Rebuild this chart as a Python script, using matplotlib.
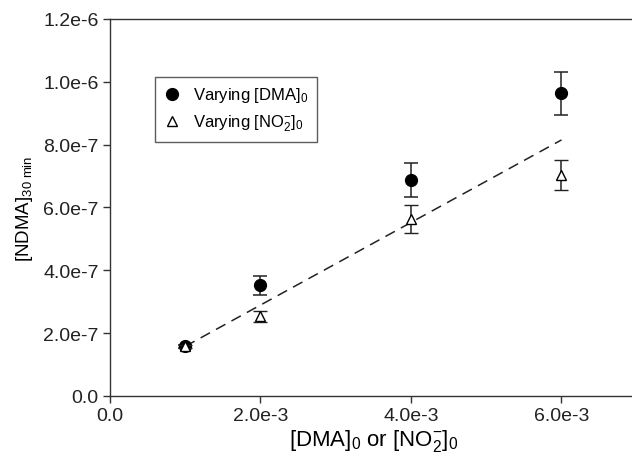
import numpy as np
import matplotlib
matplotlib.use("Agg")
import matplotlib.pyplot as plt
from matplotlib.lines import Line2D
from matplotlib.ticker import FuncFormatter, MultipleLocator

plt.rcParams.update({
    "font.family": "Liberation Sans",
    "mathtext.fontset": "custom",
    "mathtext.rm": "Liberation Sans",
    "mathtext.it": "Liberation Sans",
    "font.size": 12,
})

# initial concentrations (M)
conc = [1.0e-3, 2.0e-3, 4.0e-3, 6.0e-3]

# NDMA after 30 min, varying DMA
ndma_dma = [1.58e-7, 3.52e-7, 6.88e-7, 9.63e-7]
err_dma = [0.05e-7, 0.31e-7, 0.54e-7, 0.69e-7]

# NDMA after 30 min, varying nitrite
ndma_no2 = [1.58e-7, 2.53e-7, 5.64e-7, 7.03e-7]
err_no2 = [0.05e-7, 0.19e-7, 0.44e-7, 0.48e-7]

# fitted trend line
fit_x = [1.0e-3, 6.0e-3]
fit_y = [1.58e-7, 8.15e-7]


def sci_fmt(v, pos):
    if abs(v) < 1e-15:
        return "0.0"
    s = "%.1e" % v
    m, e = s.split("e")
    return "%se%d" % (m, int(e))


fig = plt.figure(figsize=(6.32, 4.60), dpi=100)
ax = fig.add_axes([0.174, 0.137, 0.8335, 0.8196])

ax.plot(fit_x, fit_y, color="#222222", linestyle=(0, (7, 4.5)), linewidth=1.1, zorder=2)

ax.errorbar(conc, ndma_dma, yerr=err_dma, fmt="o", color="black", markersize=8.5,
            ecolor="#222222", elinewidth=1.1, capsize=5, capthick=1.1, zorder=3)
ax.errorbar(conc, ndma_no2, yerr=err_no2, fmt="^", color="black", markerfacecolor="white",
            markersize=7, markeredgewidth=1.0, ecolor="#222222", elinewidth=1.1,
            capsize=5, capthick=1.1, zorder=4)

ax.set_xlim(0, 7.0e-3)
ax.set_ylim(0, 1.2e-6)
ax.xaxis.set_major_locator(MultipleLocator(2.0e-3))
ax.yaxis.set_major_locator(MultipleLocator(2.0e-7))
ax.xaxis.set_major_formatter(FuncFormatter(sci_fmt))
ax.yaxis.set_major_formatter(FuncFormatter(sci_fmt))
ax.xaxis.get_offset_text().set_visible(False)
ax.yaxis.get_offset_text().set_visible(False)

ax.spines["right"].set_visible(False)
for s in ["left", "bottom", "top"]:
    ax.spines[s].set_color("#333333")
    ax.spines[s].set_linewidth(1.0)
ax.tick_params(direction="out", length=5, width=1.0, color="#333333",
               labelsize=14, labelcolor="#222222", pad=3)

ax.set_xlabel("[DMA]$_0$ or [NO$_2^{-}$]$_0$", fontsize=16, labelpad=2)
ax.set_ylabel("[NDMA]$_{\\mathrm{30\\ min}}$", fontsize=13.5, labelpad=6)

handles = [
    Line2D([], [], marker="o", linestyle="none", color="black", markersize=8.5),
    Line2D([], [], marker="^", linestyle="none", color="black",
           markerfacecolor="white", markersize=7, markeredgewidth=1.0),
]
labels = ["Varying [DMA]$_0$", "Varying [NO$_2^{-}$]$_0$"]
leg = ax.legend(handles, labels, loc="upper left", bbox_to_anchor=(0.0854, 0.846),
                frameon=True, fancybox=False, edgecolor="#333333", fontsize=12,
                handlelength=1.0, handletextpad=0.8, borderpad=0.5,
                labelspacing=0.5, borderaxespad=0)
leg.get_frame().set_linewidth(1.0)

fig.savefig("out.png", dpi=100)
